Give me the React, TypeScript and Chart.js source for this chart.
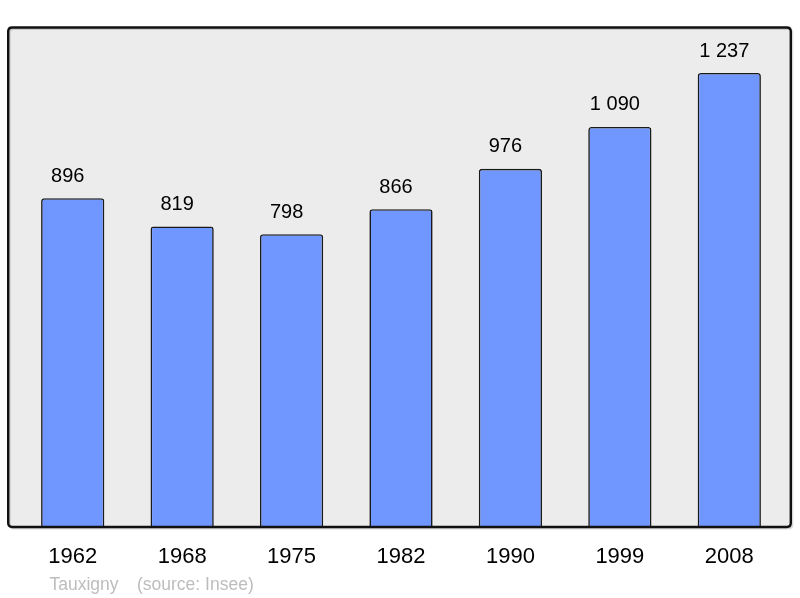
import React, { useEffect, useRef } from "react";
import { Chart, registerables } from "chart.js";

Chart.register(...registerables);

const years = ["1962", "1968", "1975", "1982", "1990", "1999", "2008"];
const population = [896, 819, 798, 866, 976, 1090, 1237];
const valueLabels = ["896", "819", "798", "866", "976", "1 090", "1 237"];
const yMax = 1361;
const footerName = "Tauxigny";
const footerSource = "(source: Insee)";

const FONT = "'Liberation Sans', Arial, sans-serif";

function roundRectPath(ctx: CanvasRenderingContext2D, x: number, y: number, w: number, h: number, r: number) {
  ctx.beginPath();
  ctx.moveTo(x + r, y);
  ctx.lineTo(x + w - r, y);
  ctx.quadraticCurveTo(x + w, y, x + w, y + r);
  ctx.lineTo(x + w, y + h - r);
  ctx.quadraticCurveTo(x + w, y + h, x + w - r, y + h);
  ctx.lineTo(x + r, y + h);
  ctx.quadraticCurveTo(x, y + h, x, y + h - r);
  ctx.lineTo(x, y + r);
  ctx.quadraticCurveTo(x, y, x + r, y);
  ctx.closePath();
}

function frameRect(chartArea: any) {
  const x = chartArea.left - 9.8;
  const w = chartArea.right + 6.8 - x;
  const y = chartArea.top;
  const h = chartArea.bottom - chartArea.top;
  return { x, y, w, h };
}

const framePlugin = {
  id: "frame",
  beforeDatasetsDraw(chart: any) {
    const { ctx, chartArea } = chart;
    const { x, y, w, h } = frameRect(chartArea);
    ctx.save();
    roundRectPath(ctx, x, y, w, h, 4);
    ctx.fillStyle = "#ececec";
    ctx.fill();
    ctx.restore();
  },
  afterDatasetsDraw(chart: any) {
    const { ctx, chartArea } = chart;
    const { x, y, w, h } = frameRect(chartArea);
    ctx.save();
    roundRectPath(ctx, x + 1.5, y + 1.5, w, h, 4);
    ctx.strokeStyle = "rgba(0,0,0,0.15)";
    ctx.lineWidth = 2;
    ctx.stroke();
    roundRectPath(ctx, x, y, w, h, 4);
    ctx.strokeStyle = "#111";
    ctx.lineWidth = 2.4;
    ctx.stroke();

    const meta = chart.getDatasetMeta(0);
    ctx.fillStyle = "#000";
    ctx.font = `20px ${FONT}`;
    ctx.textAlign = "center";
    ctx.textBaseline = "middle";
    meta.data.forEach((bar: any, i: number) => {
      ctx.fillText(valueLabels[i], bar.x - 5, bar.y - 22);
    });

    ctx.fillStyle = "#bdbdbd";
    ctx.font = `17.5px ${FONT}`;
    ctx.textAlign = "left";
    ctx.textBaseline = "alphabetic";
    ctx.fillText(footerName, 49.5, 589.5);
    ctx.fillText(footerSource, 137, 589.5);
    ctx.restore();
  },
};

export default function App() {
  const ref = useRef<HTMLCanvasElement | null>(null);
  useEffect(() => {
    document.body.style.margin = "0";
    if (!ref.current) return;
    const chart = new Chart(ref.current, {
      type: "bar",
      data: {
        labels: years,
        datasets: [
          {
            data: population,
            backgroundColor: "#7096ff",
            borderColor: "#1a1a1a",
            borderWidth: 1.6,
            borderRadius: 3,
            barPercentage: 0.578,
            categoryPercentage: 1,
          },
        ],
      },
      options: {
        responsive: false,
        animation: false,
        layout: { padding: { left: 18, right: 16, top: 27.5, bottom: 29 } },
        plugins: {
          legend: { display: false },
          tooltip: { enabled: false },
        },
        scales: {
          x: {
            grid: { display: false, drawTicks: false },
            border: { display: false },
            afterFit: (scale: any) => {
              scale.height = 42;
            },
            ticks: {
              padding: 17,
              color: "#000",
              font: { family: FONT, size: 22 },
              maxRotation: 0,
            },
          },
          y: {
            display: false,
            min: 0,
            max: yMax,
          },
        },
      },
      plugins: [framePlugin],
    });
    return () => chart.destroy();
  }, []);
  return (
    <div style={{ width: 800, height: 598 }}>
      <canvas ref={ref} width={800} height={598} style={{ display: "block" }} />
    </div>
  );
}
